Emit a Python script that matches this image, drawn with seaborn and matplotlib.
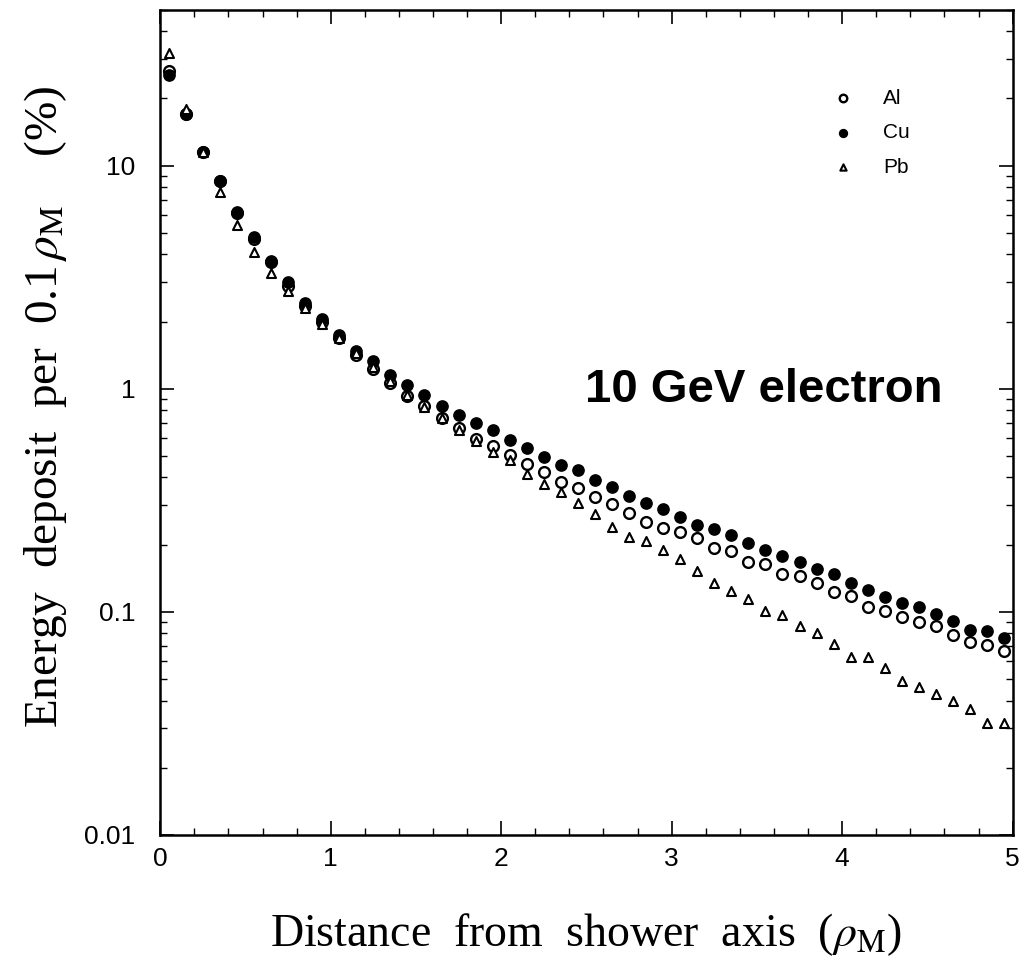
import numpy as np
import pandas as pd
import matplotlib
matplotlib.use("Agg")
import matplotlib.pyplot as plt
import seaborn as sns
from matplotlib.ticker import MultipleLocator, LogLocator, NullFormatter, FixedLocator, FixedFormatter

distance = [round(0.05 + 0.1 * k, 2) for k in range(50)]

cu = [25.5, 17.0, 11.5, 8.5, 6.2, 4.8, 3.75, 3.0, 2.42, 2.05,
      1.74, 1.47, 1.33, 1.15, 1.04, 0.94, 0.84, 0.76, 0.70, 0.65,
      0.59, 0.54, 0.495, 0.455, 0.43, 0.39, 0.362, 0.332, 0.306, 0.29,
      0.265, 0.244, 0.235, 0.222, 0.203, 0.189, 0.177, 0.168, 0.155, 0.147,
      0.135, 0.125, 0.117, 0.11, 0.105, 0.098, 0.091, 0.083, 0.082, 0.076]

al = [26.5, 17.0, 11.5, 8.5, 6.1, 4.7, 3.7, 2.9, 2.35, 2.0,
      1.68, 1.42, 1.22, 1.06, 0.93, 0.84, 0.74, 0.667, 0.593, 0.552,
      0.503, 0.458, 0.423, 0.38, 0.36, 0.327, 0.305, 0.278, 0.252, 0.238,
      0.229, 0.214, 0.194, 0.188, 0.168, 0.163, 0.148, 0.144, 0.135, 0.123,
      0.118, 0.105, 0.101, 0.095, 0.09, 0.086, 0.079, 0.073, 0.071, 0.067]

pb = [32.0, 18.0, 11.5, 7.6, 5.4, 4.1, 3.3, 2.73, 2.3, 1.95,
      1.68, 1.45, 1.25, 1.08, 0.94, 0.83, 0.74, 0.65, 0.58, 0.52,
      0.478, 0.416, 0.374, 0.343, 0.306, 0.274, 0.241, 0.216, 0.208, 0.189,
      0.172, 0.153, 0.135, 0.124, 0.114, 0.101, 0.097, 0.086, 0.080, 0.072,
      0.063, 0.063, 0.056, 0.049, 0.046, 0.043, 0.040, 0.0367, 0.0316, 0.0316]

materials = ["Al", "Cu", "Pb"]
x_ticks = [0, 1, 2, 3, 4, 5]
y_ticks = [0.01, 0.1, 1, 10]
y_tick_labels = ["0.01", "0.1", "1", "10"]

df = pd.DataFrame({
    "distance": distance * 3,
    "deposit": al + cu + pb,
    "material": ["Al"] * 50 + ["Cu"] * 50 + ["Pb"] * 50,
})

sns.set_style("ticks")
plt.rcParams["font.family"] = ["Liberation Sans", "DejaVu Sans"]
plt.rcParams["mathtext.fontset"] = "stix"
for key in ["text.color", "axes.labelcolor", "xtick.color", "ytick.color", "axes.edgecolor"]:
    plt.rcParams[key] = "black"

fig = plt.figure(figsize=(10.27, 9.63), dpi=100)
ax = fig.add_axes([0.156, 0.133, 0.83, 0.857])

styles = {
    "Al": dict(marker="o", facecolor="white", edgecolor="black", s=60, linewidth=1.7),
    "Cu": dict(marker="o", facecolor="black", edgecolor="black", s=66, linewidth=1.0),
    "Pb": dict(marker="^", facecolor="white", edgecolor="black", s=42, linewidth=1.5),
}
for m in materials:
    sns.scatterplot(data=df[df["material"] == m], x="distance", y="deposit",
                    ax=ax, label=m, zorder=3, **styles[m])

ax.set_yscale("log")
ax.set_xlim(0, 5)
ax.set_ylim(0.01, 50)

ax.xaxis.set_major_locator(FixedLocator(x_ticks))
ax.xaxis.set_minor_locator(MultipleLocator(0.2))
ax.yaxis.set_major_locator(FixedLocator(y_ticks))
ax.yaxis.set_major_formatter(FixedFormatter(y_tick_labels))
ax.yaxis.set_minor_locator(LogLocator(base=10, subs=np.arange(2, 10), numticks=20))
ax.yaxis.set_minor_formatter(NullFormatter())

ax.tick_params(which="both", direction="in", top=True, right=True, labelsize=19)
ax.tick_params(which="major", length=10, width=1.2)
ax.tick_params(which="minor", length=5, width=1.0)
ax.tick_params(axis="x", which="major", pad=9)
ax.tick_params(axis="y", which="major", pad=18)
for sp in ax.spines.values():
    sp.set_linewidth(1.8)
    sp.set_color("black")

ax.set_xlabel(r"Distance  from  shower  axis  ($\rho_{\rm M}$)",
              family="Liberation Serif", fontsize=33, va="center")
ax.xaxis.set_label_coords(0.5, -0.121)
ax.set_ylabel(r"Energy  deposit  per  0.1$\,\rho_{\rm M}$    (%)",
              family="Liberation Serif", fontsize=34, va="center")
ax.yaxis.set_label_coords(-0.135, 0.519)

ax.text(0.708, 0.539, "10 GeV electron", transform=ax.transAxes,
        fontsize=34, fontweight="bold", ha="center", va="center",
        family="Liberation Sans")

leg = ax.legend(loc="upper left", bbox_to_anchor=(0.755, 0.927), frameon=False,
                fontsize=15, handletextpad=0.9, labelspacing=0.75,
                markerscale=0.7)

fig.savefig("out.png", dpi=100)
